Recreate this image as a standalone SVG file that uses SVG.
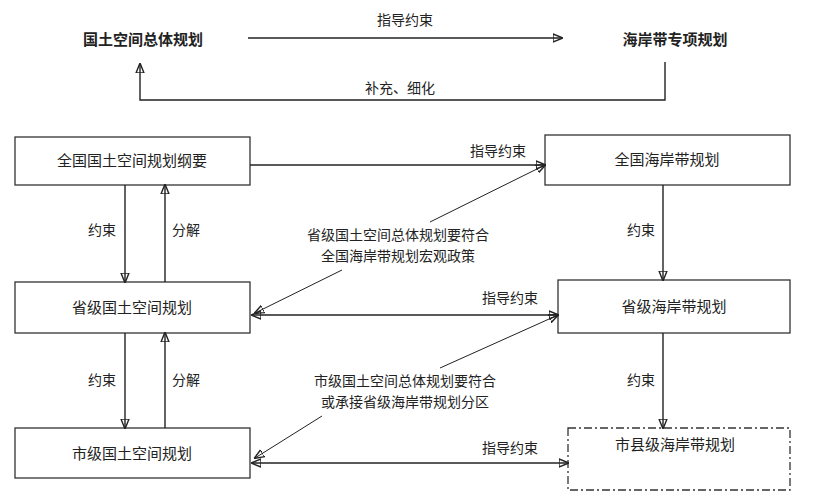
<svg xmlns="http://www.w3.org/2000/svg" width="820" height="500" viewBox="0 0 820 500">
<style>
text{font-family:"Noto Sans CJK SC","Noto Sans",sans-serif;font-size:14px;fill:#222;text-anchor:middle}
.b{font-weight:bold;font-size:15px}
.n{font-size:15px}
rect{fill:#fff;stroke:#333;stroke-width:1.3}
line,path{stroke:#222;stroke-width:1.4;fill:none}
.t{stroke-width:1}
</style>
<defs>
<marker id="a" viewBox="0 0 10 10" refX="9" refY="5" markerWidth="10" markerHeight="10" markerUnits="userSpaceOnUse" orient="auto-start-reverse"><path d="M0,1 L10,5 L0,9 z" fill="#111" stroke="none"/></marker>
</defs>
<rect width="820" height="500" style="stroke:none"/>
<g id="top-left"><text class="b" x="143" y="45">国土空间总体规划</text></g>
<g id="top-right"><text class="b" x="675" y="45">海岸带专项规划</text></g>
<g id="n1"><rect x="15" y="137" width="235" height="48"/><text class="n" x="132" y="166">全国国土空间规划纲要</text></g>
<g id="n2"><rect x="15" y="282" width="235" height="51"/><text class="n" x="132" y="313">省级国土空间规划</text></g>
<g id="n3"><rect x="15" y="428" width="235" height="50"/><text class="n" x="132" y="459">市级国土空间规划</text></g>
<g id="n4"><rect x="545" y="135" width="245" height="50"/><text class="n" x="667" y="165">全国海岸带规划</text></g>
<g id="n5"><rect x="558" y="280" width="232" height="53"/><text class="n" x="674" y="312">省级海岸带规划</text></g>
<g id="n6"><rect x="568" y="428" width="222" height="62" style="stroke-dasharray:8 3 2 3"/><text class="n" x="675" y="450">市县级海岸带规划</text></g>
<g id="connectors">
<line x1="248" y1="38" x2="562" y2="38" marker-end="url(#a)"/>
<text x="405" y="25">指导约束</text>
<path d="M665,62 V100 H140 V64" marker-end="url(#a)"/>
<text x="400" y="93">补充、细化</text>
<line x1="250" y1="165" x2="545" y2="165" marker-end="url(#a)"/>
<text x="498" y="156">指导约束</text>
<line x1="252" y1="315" x2="558" y2="315" marker-start="url(#a)" marker-end="url(#a)"/>
<text x="510" y="303">指导约束</text>
<line x1="252" y1="463" x2="568" y2="463" marker-start="url(#a)" marker-end="url(#a)"/>
<text x="510" y="453">指导约束</text>
<line x1="125" y1="185" x2="125" y2="282" marker-end="url(#a)"/>
<line x1="165" y1="282" x2="165" y2="185" marker-end="url(#a)"/>
<text x="102" y="235">约束</text><text x="186" y="235">分解</text>
<line x1="125" y1="333" x2="125" y2="428" marker-end="url(#a)"/>
<line x1="165" y1="428" x2="165" y2="333" marker-end="url(#a)"/>
<text x="102" y="385">约束</text><text x="186" y="385">分解</text>
<line x1="663" y1="185" x2="663" y2="280" marker-end="url(#a)"/>
<text x="641" y="235">约束</text>
<line x1="663" y1="333" x2="663" y2="428" marker-end="url(#a)"/>
<text x="641" y="385">约束</text>
<text x="398" y="240">省级国土空间总体规划要符合</text>
<text x="398" y="261">全国海岸带规划宏观政策</text>
<line class="t" x1="430" y1="222" x2="545" y2="165" marker-end="url(#a)"/>
<line class="t" x1="342" y1="270" x2="255" y2="313" marker-end="url(#a)"/>
<text x="405" y="386">市级国土空间总体规划要符合</text>
<text x="405" y="407">或承接省级海岸带规划分区</text>
<line class="t" x1="440" y1="368" x2="558" y2="315" marker-end="url(#a)"/>
<line class="t" x1="322" y1="416" x2="255" y2="458" marker-end="url(#a)"/>
</g>
</svg>
